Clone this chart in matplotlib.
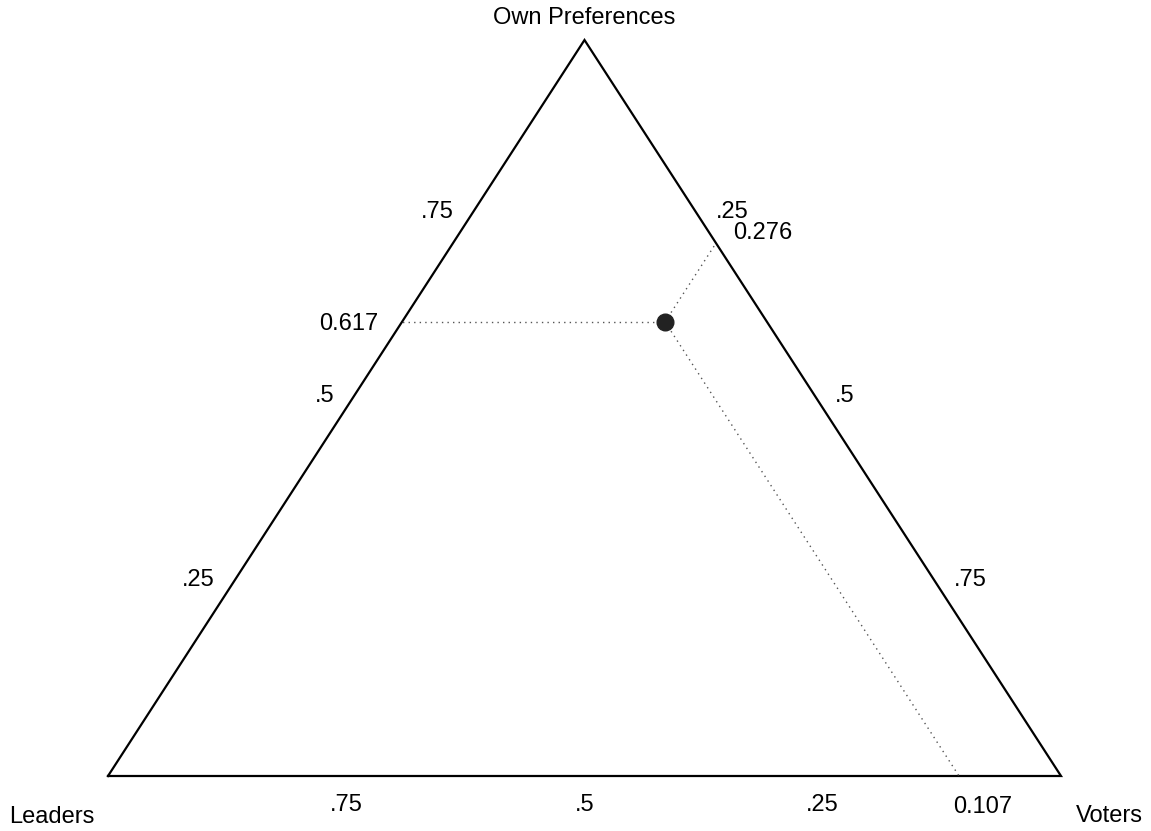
import matplotlib
matplotlib.use("Agg")
import matplotlib.pyplot as plt
from matplotlib.transforms import offset_copy

plt.rcParams['font.family'] = ['Liberation Sans', 'DejaVu Sans']

# Data
vertex_labels = ["Leaders", "Voters", "Own Preferences"]
tick_values = [0.25, 0.5, 0.75]
tick_labels = [".25", ".5", ".75"]
point_leaders = 0.107
point_voters = 0.276
point_own = 0.617

W, H = 1151, 831
fig = plt.figure(figsize=(W / 100, H / 100), dpi=100)
# triangle pixel frame
x0, x1 = 108, 1061
ybot, ytop = 776, 40
ax = fig.add_axes([x0 / W, (H - ybot) / H, (x1 - x0) / W, (ybot - ytop) / H])
ax.set_xlim(0, 1)
ax.set_ylim(0, 1)
ax.axis('off')

def tern(l, v, o):
    return v + 0.5 * o, o

FS = 17
# triangle
tx = [0, 1, 0.5, 0]
ty = [0, 0, 1, 0]
ax.plot(tx, ty, color='black', lw=1.6, clip_on=False, solid_joinstyle='miter')

def off(dx, dy):
    return offset_copy(ax.transData, fig=fig, x=dx, y=-dy, units='dots')

# left edge ticks (Own share)
for v, lab in zip(tick_values, tick_labels):
    x, y = tern(1 - v, 0, v)
    ax.text(x, y, lab, transform=off(-12, -12), ha='right', va='center', fontsize=FS)
# right edge ticks (Voters share)
for v, lab in zip(tick_values, tick_labels):
    x, y = tern(0, v, 1 - v)
    ax.text(x, y, lab, transform=off(12, -12), ha='left', va='center', fontsize=FS)
# bottom ticks (Leaders share)
for v, lab in zip(tick_values, tick_labels):
    x, y = tern(v, 1 - v, 0)
    ax.text(x, y, lab, transform=off(0, 29), ha='center', va='center', fontsize=FS)

# vertex labels
ax.text(*tern(1, 0, 0), vertex_labels[0], transform=off(-56, 41), ha='center', va='center', fontsize=FS)
ax.text(*tern(0, 1, 0), vertex_labels[1], transform=off(48, 40), ha='center', va='center', fontsize=FS)
ax.text(*tern(0, 0, 1), vertex_labels[2], transform=off(0, -22), ha='center', va='center', fontsize=FS)

# point and guide lines
px, py = tern(point_leaders, point_voters, point_own)
lx, ly = tern(1 - point_own, 0, point_own)          # constant Own
rx, ry = tern(0, point_voters, 1 - point_voters)    # constant Voters
bx, by = tern(point_leaders, 1 - point_leaders, 0)  # constant Leaders
for ex, ey in [(lx, ly), (rx, ry), (bx, by)]:
    ax.plot([px, ex], [py, ey], color='#555555', lw=1.0, ls=(0, (1, 3)), clip_on=False)
ax.plot([px], [py], 'o', color='#222222', ms=12, clip_on=False, zorder=5)

ax.text(lx, ly, f"{point_own:.3f}", transform=off(-24, 2), ha='right', va='center', fontsize=FS)
ax.text(rx, ry, f"{point_voters:.3f}", transform=off(17, -10), ha='left', va='center', fontsize=FS)
ax.text(bx, by, f"{point_leaders:.3f}", transform=off(24, 31), ha='center', va='center', fontsize=FS)

fig.savefig("out.png", dpi=100)
